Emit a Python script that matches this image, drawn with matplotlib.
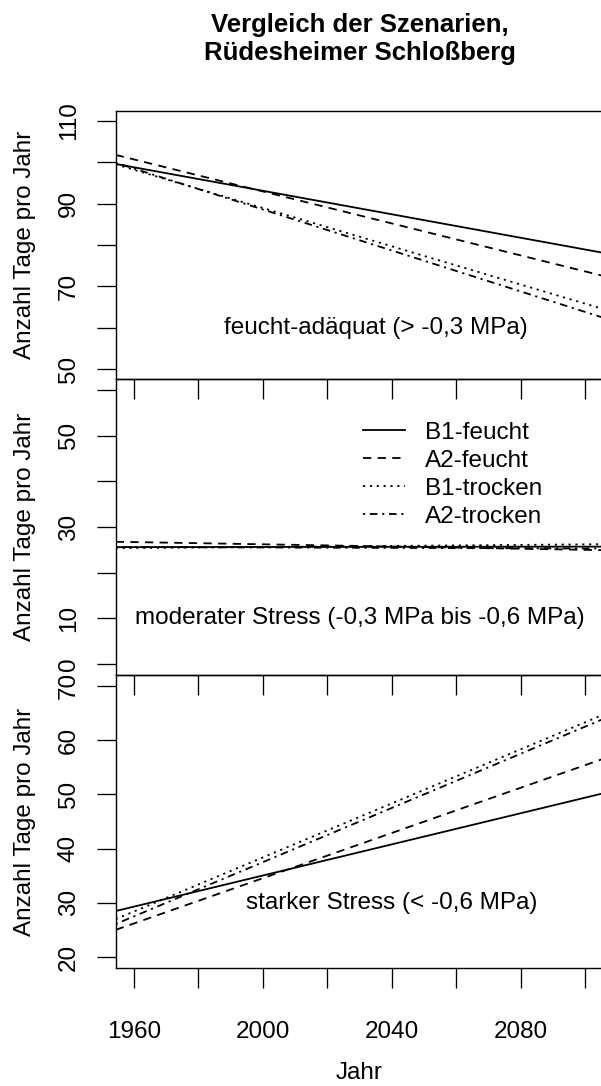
import numpy as np
import matplotlib.pyplot as plt

plt.rcParams['font.family'] = ['Liberation Sans', 'DejaVu Sans']

# Trendlinien (Werte bei 1960 und 2100) je Szenario
years = [1960, 2100]
scenarios = ['B1-feucht', 'A2-feucht', 'B1-trocken', 'A2-trocken']

adaequat = [[98.8, 78.9], [100.7, 73.6], [98.2, 65.8], [98.5, 63.8]]
moderat = [[25.6, 25.7], [26.7, 25.0], [25.4, 26.2], [25.6, 25.3]]
stark = [[29.3, 49.4], [26.2, 55.4], [28.4, 63.3], [27.5, 62.5]]

panel_texts = ['feucht-adäquat (> -0,3 MPa)',
               'moderater Stress (-0,3 MPa bis -0,6 MPa)',
               'starker Stress (< -0,6 MPa)']
ylims = [(50, 110), (0, 60), (20, 70)]
xticks = np.arange(1960, 2101, 20)
xlabels = ['1960', '', '2000', '', '2040', '', '2080', '']

styles = ['-', (0, (4.6, 3.5)), (0, (1.2, 2.6)), (0, (1.2, 2.6, 4.2, 2.6))]

W, H = 601, 1086
fig = plt.figure(figsize=(W / 100, H / 100), dpi=100)
fs = 17.5

left, right = 115.7, 603.4
bounds = [(111, 379), (379, 675), (675, 968)]
text_pos = [(2035, 60), (2030, 10), (2040, 30)]

axes = []
for i, (top, bot) in enumerate(bounds):
    ax = fig.add_axes([left / W, 1 - bot / H, (right - left) / W, (bot - top) / H])
    ax.patch.set_visible(False)
    lo, hi = ylims[i]
    ext = 0.04 * (hi - lo)
    ax.set_ylim(lo - ext, hi + ext)
    ax.set_xlim(1960 - 0.04 * 140, 2100 + 0.04 * 140)
    ax.set_xticks(xticks)
    ax.set_yticks(np.arange(lo, hi + 1, 10))
    ylab = [str(v) for v in np.arange(lo, hi + 1, 10)]
    if i == 0:
        ylab = [s if (int(s) - 50) % 20 == 0 else '' for s in ylab]
    elif i == 1:
        ylab = [s if s in ('0', '10', '30', '50') else '' for s in ylab]
    ax.set_yticklabels(ylab, rotation=90, va='center', ha='center', fontsize=fs)
    ax.tick_params(axis='y', direction='out', length=13.7, width=0.95, pad=20)
    ax.tick_params(axis='x', direction='out', length=14.4, width=0.95, pad=23.5)
    if i < 2:
        ax.tick_params(axis='x', labelbottom=False)
    else:
        ax.set_xticklabels(xlabels, fontsize=fs)
    for s in ax.spines.values():
        s.set_linewidth(1.0)
    ax.set_ylabel('Anzahl Tage pro Jahr', fontsize=fs, va='center')
    ax.yaxis.set_label_coords(-0.186, 0.5)
    axes.append(ax)

for ax, data in zip(axes, [adaequat, moderat, stark]):
    for vals, ls, name in zip(data, styles, scenarios):
        ax.axline((years[0], vals[0]), (years[1], vals[1]), color='black',
                  lw=1.3, linestyle=ls, label=name)

for ax, txt, (tx, ty) in zip(axes, panel_texts, text_pos):
    ax.text(tx, ty, txt, ha='center', va='center', fontsize=fs)

axes[1].legend(loc='upper left', bbox_to_anchor=(0.507, 0.856), frameon=False,
               fontsize=fs, handlelength=1.75, handletextpad=0.8,
               labelspacing=0.25, borderpad=0, borderaxespad=0)

cx = (left + right) / 2 / W
fig.text(cx, 1 - 25 / H, 'Vergleich der Szenarien,', ha='center', va='center',
         fontsize=18.5, fontweight='bold')
fig.text(cx, 1 - 53 / H, 'Rüdesheimer Schloßberg', ha='center', va='center',
         fontsize=18.5, fontweight='bold')
fig.text(cx, 1 - 1073 / H, 'Jahr', ha='center', va='center', fontsize=fs)

fig.savefig('out.png', dpi=100)
